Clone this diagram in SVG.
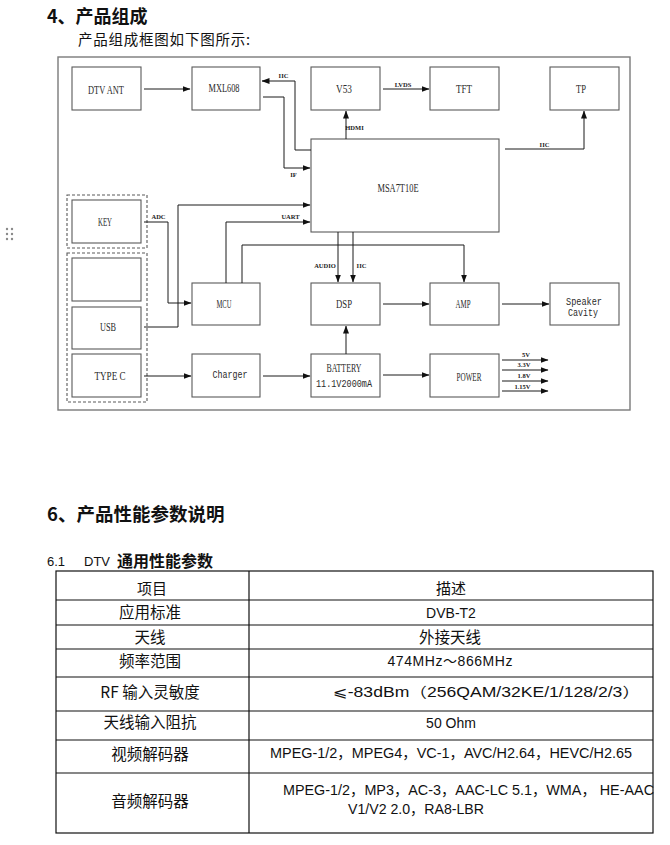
<svg xmlns="http://www.w3.org/2000/svg" width="670" height="845" viewBox="0 0 670 845">
<style>
.bg{fill:#ffffff}
.frame{fill:none;stroke:#7a7a7a;stroke-width:1.4}
.box{fill:#ffffff;stroke:#5a5a5a;stroke-width:1.1}
.dash{fill:none;stroke:#5a5a5a;stroke-width:1.1;stroke-dasharray:3 2}
.ln{fill:none;stroke:#1a1a1a;stroke-width:1}
.lbl{font-family:"Liberation Serif","DejaVu Serif",serif;font-size:12px;fill:#2a2a2a;text-anchor:middle}
.mono{font-family:"Liberation Mono","DejaVu Sans Mono",monospace;font-size:11px;fill:#2a2a2a;text-anchor:middle}
.sm{font-family:"Liberation Serif","DejaVu Serif",serif;font-size:6.5px;fill:#222222;text-anchor:middle;font-weight:bold}
.h1{font-family:"Noto Sans CJK SC","Liberation Sans",sans-serif;font-size:18px;font-weight:bold;fill:#111111}
.p{font-family:"Noto Sans CJK SC","Liberation Sans",sans-serif;font-size:14.5px;fill:#111111}
.h2{font-family:"Liberation Sans","Noto Sans CJK SC",sans-serif;font-size:13px;fill:#111111}
.h2b{font-family:"Noto Sans CJK SC",sans-serif;font-size:16px;font-weight:bold;fill:#111111}
.tl{fill:none;stroke:#111111;stroke-width:1.2}
.tc{font-family:"Noto Sans CJK SC",sans-serif;font-size:15.5px;fill:#111111;text-anchor:middle}
.tr{font-family:"Liberation Sans","DejaVu Sans","Noto Sans CJK SC",sans-serif;font-size:14px;fill:#111111;text-anchor:middle}
.trl{font-family:"Liberation Sans","DejaVu Sans","Noto Sans CJK SC",sans-serif;font-size:14px;fill:#111111}
.dot{fill:#8a8a8a}
</style>
<defs>
<marker id="arr" markerUnits="userSpaceOnUse" markerWidth="8" markerHeight="6" refX="7.5" refY="3" orient="auto">
<path d="M0,0 L8,3 L0,6 z" fill="#111111"/>
</marker>
</defs>
<rect class="bg" x="0" y="0" width="670" height="845"/>

<!-- headings -->
<text class="h1" x="47" y="23">4、产品组成</text>
<text class="p" x="78" y="45" textLength="172" lengthAdjust="spacing">产品组成框图如下图所示:</text>

<!-- drag handle dots -->
<g id="handle">
<circle class="dot" cx="7" cy="229" r="1.2"/><circle class="dot" cx="12" cy="229" r="1.2"/>
<circle class="dot" cx="7" cy="234" r="1.2"/><circle class="dot" cx="12" cy="234" r="1.2"/>
<circle class="dot" cx="7" cy="239" r="1.2"/><circle class="dot" cx="12" cy="239" r="1.2"/>
</g>

<!-- frame -->
<rect class="frame" x="58" y="57" width="572" height="353"/>

<!-- dashed groups -->
<g id="grp-key"><rect class="dash" x="67" y="195" width="80" height="53"/></g>
<g id="grp-ports"><rect class="dash" x="67" y="253" width="80" height="149"/></g>

<!-- nodes -->
<g id="dtv-ant"><rect class="box" x="72" y="67" width="69" height="43"/><text class="lbl" x="106" y="94" textLength="36" lengthAdjust="spacingAndGlyphs">DTV  ANT</text></g>
<g id="mxl608"><rect class="box" x="192" y="67" width="68" height="43"/><text class="lbl" x="224" y="92" textLength="31" lengthAdjust="spacingAndGlyphs">MXL608</text></g>
<g id="v53"><rect class="box" x="311" y="67" width="69" height="43"/><text class="lbl" x="344" y="93" textLength="16" lengthAdjust="spacingAndGlyphs">V53</text></g>
<g id="tft"><rect class="box" x="430" y="67" width="69" height="43"/><text class="lbl" x="464" y="93" textLength="16" lengthAdjust="spacingAndGlyphs">TFT</text></g>
<g id="tp"><rect class="box" x="550" y="67" width="69" height="43"/><text class="lbl" x="581" y="93" textLength="10" lengthAdjust="spacingAndGlyphs">TP</text></g>
<g id="msa7t10e"><rect class="box" x="311" y="139" width="188" height="93"/><text class="lbl" x="398" y="192" textLength="41" lengthAdjust="spacingAndGlyphs">MSA7T10E</text></g>
<g id="key"><rect class="box" x="72" y="200" width="69" height="43"/><text class="lbl" x="105" y="226" textLength="14" lengthAdjust="spacingAndGlyphs">KEY</text></g>
<g id="blank"><rect class="box" x="72" y="258" width="69" height="43"/></g>
<g id="usb"><rect class="box" x="72" y="307" width="69" height="42"/><text class="lbl" x="108" y="331" textLength="16" lengthAdjust="spacingAndGlyphs">USB</text></g>
<g id="typec"><rect class="box" x="72" y="354" width="69" height="43"/><text class="lbl" x="110" y="380" textLength="31" lengthAdjust="spacingAndGlyphs">TYPE  C</text></g>
<g id="mcu"><rect class="box" x="192" y="283" width="68" height="42"/><text class="lbl" x="224" y="308" textLength="15" lengthAdjust="spacingAndGlyphs">MCU</text></g>
<g id="dsp"><rect class="box" x="311" y="283" width="69" height="42"/><text class="lbl" x="344" y="308" textLength="16" lengthAdjust="spacingAndGlyphs">DSP</text></g>
<g id="amp"><rect class="box" x="430" y="283" width="69" height="42"/><text class="lbl" x="463" y="308" textLength="15" lengthAdjust="spacingAndGlyphs">AMP</text></g>
<g id="speaker"><rect class="box" x="550" y="283" width="69" height="42"/><text class="mono" x="584" y="305" textLength="36" lengthAdjust="spacingAndGlyphs">Speaker</text><text class="mono" x="583" y="316" textLength="30" lengthAdjust="spacingAndGlyphs">Cavity</text></g>
<g id="charger"><rect class="box" x="192" y="354" width="68" height="43"/><text class="mono" x="230" y="378" textLength="35" lengthAdjust="spacingAndGlyphs">Charger</text></g>
<g id="battery"><rect class="box" x="311" y="354" width="69" height="43"/><text class="lbl" x="344" y="372" textLength="35" lengthAdjust="spacingAndGlyphs">BATTERY</text><text class="mono" x="344" y="387" textLength="56" lengthAdjust="spacingAndGlyphs">11.1V2000mA</text></g>
<g id="power"><rect class="box" x="430" y="354" width="69" height="43"/><text class="lbl" x="469" y="381" textLength="25" lengthAdjust="spacingAndGlyphs">POWER</text></g>

<!-- connectors -->
<g id="connectors">
<path class="ln" marker-end="url(#arr)" d="M144,89 H190"/>
<path class="ln" marker-end="url(#arr)" d="M311,150 H295 V81 H262"/>
<path class="ln" marker-end="url(#arr)" d="M263,97 H284 V168 H310"/>
<path class="ln" marker-end="url(#arr)" d="M383,89 H429"/>
<path class="ln" marker-end="url(#arr)" d="M346,139 V111"/>
<path class="ln" marker-end="url(#arr)" d="M505,149 H584 V111"/>
<path class="ln" marker-end="url(#arr)" d="M144,222 H168 V303 H191"/>
<path class="ln" marker-end="url(#arr)" d="M144,327 H178 V205 H310"/>
<path class="ln" marker-end="url(#arr)" d="M226,283 V222 H310"/>
<path class="ln" marker-end="url(#arr)" d="M242,283 V245 H464 V282"/>
<path class="ln" marker-end="url(#arr)" d="M338,232 V282"/>
<path class="ln" marker-end="url(#arr)" d="M353,232 V282"/>
<path class="ln" marker-end="url(#arr)" d="M383,304 H429"/>
<path class="ln" marker-end="url(#arr)" d="M502,304 H549"/>
<path class="ln" marker-end="url(#arr)" d="M346,354 V326"/>
<path class="ln" marker-end="url(#arr)" d="M144,376 H191"/>
<path class="ln" marker-end="url(#arr)" d="M263,376 H310"/>
<path class="ln" marker-end="url(#arr)" d="M383,375 H429"/>
<path class="ln" marker-end="url(#arr)" d="M502,360 H548"/>
<path class="ln" marker-end="url(#arr)" d="M502,370 H548"/>
<path class="ln" marker-end="url(#arr)" d="M502,381 H548"/>
<path class="ln" marker-end="url(#arr)" d="M502,391 H548"/>
<text class="sm" x="283.5" y="78">IIC</text>
<text class="sm" x="293.5" y="177">IF</text>
<text class="sm" x="403" y="87">LVDS</text>
<text class="sm" x="354.5" y="130">HDMI</text>
<text class="sm" x="544.5" y="147">IIC</text>
<text class="sm" x="158.5" y="219">ADC</text>
<text class="sm" x="290.5" y="219">UART</text>
<text class="sm" x="325" y="268">AUDIO</text>
<text class="sm" x="361.5" y="268">IIC</text>
<text class="sm" x="526" y="357">5V</text>
<text class="sm" x="524" y="367">3.3V</text>
<text class="sm" x="524" y="378">1.8V</text>
<text class="sm" x="522.5" y="389">1.15V</text>
</g>

<!-- section 6 -->
<text class="h1" x="47" y="521" style="font-size:18.5px">6、产品性能参数说明</text>
<text class="h2" x="47" y="566">6.1</text>
<text class="h2" x="84" y="566">DTV</text>
<text class="h2b" x="117" y="567">通用性能参数</text>

<g id="table">
<rect class="tl" x="56" y="571" width="597" height="262"/>
<path class="tl" d="M249,571 V833 M56,600 H653 M56,625 H653 M56,649 H653 M56,677 H653 M56,711 H653 M56,740 H653 M56,773 H653"/>
<text class="tc" x="152" y="594" style="font-size:15px">项目</text>
<text class="tc" x="451" y="594" style="font-size:15px">描述</text>
<text class="tc" x="150" y="618">应用标准</text>
<text class="tr" x="451" y="618">DVB-T2</text>
<text class="tc" x="150" y="643">天线</text>
<text class="tc" x="450" y="643">外接天线</text>
<text class="tc" x="150" y="667">频率范围</text>
<text class="tr" x="450" y="666" textLength="125">474MHz～866MHz</text>
<text class="tc" x="150" y="698">RF  输入灵敏度</text>
<text class="trl" x="333" y="697" textLength="307" lengthAdjust="spacingAndGlyphs">⩽-83dBm（256QAM/32KE/1/128/2/3）</text>
<text class="tc" x="150" y="728">天线输入阻抗</text>
<text class="tr" x="451" y="728">50 Ohm</text>
<text class="tc" x="150" y="760">视频解码器</text>
<text class="trl" x="270" y="758" textLength="362" lengthAdjust="spacingAndGlyphs">MPEG-1/2，MPEG4，VC-1，AVC/H2.64，HEVC/H2.65</text>
<text class="tc" x="150" y="807">音频解码器</text>
<text class="trl" x="283" y="795" textLength="371" lengthAdjust="spacingAndGlyphs">MPEG-1/2，MP3，AC-3，AAC-LC 5.1，WMA，   HE-AAC</text>
<text class="trl" x="348" y="814" textLength="136" lengthAdjust="spacingAndGlyphs">V1/V2 2.0，RA8-LBR</text>
</g>
</svg>
